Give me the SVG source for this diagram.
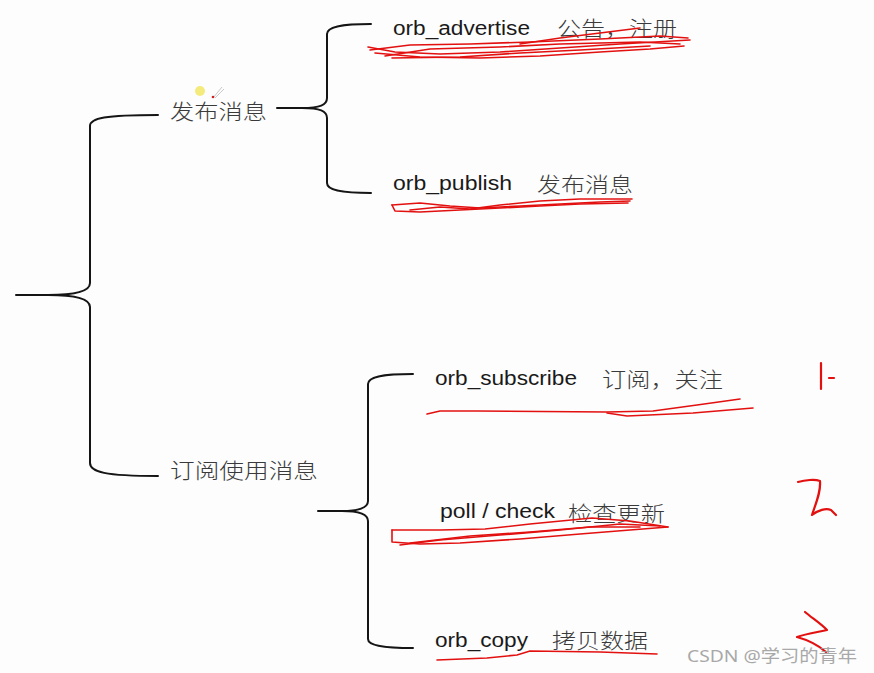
<svg xmlns="http://www.w3.org/2000/svg" width="874" height="673" viewBox="0 0 874 673">
<style>
.br{fill:none;stroke:#151515;stroke-width:2;stroke-linecap:round}
.lat{font-family:"Liberation Sans","Open Sans",sans-serif;font-size:20px;fill:#1a1a1a}
.cjk{font-family:"Noto Sans CJK SC","Noto Sans CJK JP",sans-serif;font-size:21px;fill:#3a3a3a;font-weight:300}
.red{fill:none;stroke:#e31010;stroke-width:1.6;stroke-linecap:round;stroke-linejoin:round}
.redt{fill:none;stroke:#e31010;stroke-width:2.2;stroke-linecap:round;stroke-linejoin:round}
</style>
<rect width="874" height="673" fill="#fdfdfd"/>
<g id="connectors">
<path class="br" d="M16,295 L48,295 C72,295 90,292 90,283 L90,126 C90,118 105,115 158,115"/>
<path class="br" d="M48,295 C72,295 90,298 90,307 L90,463 C90,472 105,476 158,476"/>
<path class="br" d="M277,108 L302,108 C320,108 327,105 327,98 L327,34 C327,27 340,24 371,24"/>
<path class="br" d="M302,108 C320,108 327,111 327,118 L327,183 C327,190 340,193 371,193"/>
<path class="br" d="M318,511 L342,511 C360,511 368,508 368,501 L368,384 C368,377 381,374 413,374"/>
<path class="br" d="M342,511 C360,511 368,514 368,521 L368,639 C368,645 381,648 413,648"/>
</g>
<g id="root-publish">
<text class="cjk" x="170" y="119" textLength="97" lengthAdjust="spacingAndGlyphs" font-size="22">发布消息</text>
</g>
<g id="root-subscribe">
<text class="cjk" x="170" y="478" textLength="148" lengthAdjust="spacingAndGlyphs" font-size="22">订阅使用消息</text>
</g>
<g id="node-advertise">
<text class="lat" x="393" y="35" textLength="137" lengthAdjust="spacingAndGlyphs">orb_advertise</text>
<text class="cjk" x="557" y="36" textLength="120" lengthAdjust="spacingAndGlyphs">公告，注册</text>
</g>
<g id="node-publish">
<text class="lat" x="393" y="190" textLength="119" lengthAdjust="spacingAndGlyphs">orb_publish</text>
<text class="cjk" x="537" y="192" textLength="96" lengthAdjust="spacingAndGlyphs" font-size="22">发布消息</text>
</g>
<g id="node-subscribe">
<text class="lat" x="435" y="385" textLength="142" lengthAdjust="spacingAndGlyphs">orb_subscribe</text>
<text class="cjk" x="602" y="387" textLength="121" lengthAdjust="spacingAndGlyphs">订阅，关注</text>
</g>
<g id="node-poll">
<text class="lat" x="440" y="518" textLength="115" lengthAdjust="spacingAndGlyphs">poll / check</text>
<text class="cjk" x="568" y="521" textLength="97" lengthAdjust="spacingAndGlyphs" font-size="22">检查更新</text>
</g>
<g id="node-copy">
<text class="lat" x="435" y="647" textLength="93" lengthAdjust="spacingAndGlyphs">orb_copy</text>
<text class="cjk" x="552" y="648" textLength="96" lengthAdjust="spacingAndGlyphs">拷贝数据</text>
</g>
<g id="annotations">
<path class="red" d="M368,47 L395,52 L440,54 L500,52 L560,48 L620,44 L690,40"/>
<path class="red" d="M370,50 L410,45 L470,44 L530,42 L600,39 L660,36 L688,38"/>
<path class="red" d="M375,53 L420,57 L480,58 L540,56 L600,52 L650,49 L684,46"/>
<path class="red" d="M385,56 L430,49 L500,47 L560,44 L640,42 L680,44"/>
<path class="red" d="M392,58 L460,57 L520,53 L580,50 L650,46"/>
<path class="red" d="M520,44 L560,38 L600,33 L640,28"/>
<path class="red" d="M392,205 L420,203 L450,206 L480,208 L520,206 L560,204 L600,202 L630,201"/>
<path class="red" d="M392,205 L395,211 L420,212 L460,210 L500,208 L540,206 L580,204 L628,203"/>
<path class="red" d="M410,210 L440,207 L470,209 L500,205 L540,201 L580,199 L632,199"/>
<path class="red" d="M427,414 L440,411 L477,411 L607,412 L653,411 L697,405 L740,399"/>
<path class="red" d="M607,413 L627,416 L693,413 L753,408"/>
<path class="red" d="M392,530 L392,542 L420,544 L460,543 L520,539 L580,534 L630,530 L668,527"/>
<path class="red" d="M392,530 L440,530 L485,529 L530,524 L592,518 L630,521 L668,527"/>
<path class="red" d="M400,545 L440,540 L500,535 L560,530 L620,524 L660,526"/>
<path class="red" d="M410,543 L470,536 L530,532 L590,527 L640,527"/>
<path class="red" d="M437,660 L487,658 L517,655 L530,651 L600,652 L657,654"/>
<path class="redt" d="M821,363 L821,389 M829,378 L834,378"/>
<path class="redt" d="M798,482 C805,480 815,479 820,481 C821,492 816,503 812,515 C818,510 826,508 831,510 L836,515"/>
<path class="redt" d="M805,612 C812,618 820,623 827,630 C818,632 805,634 797,637 C808,640 818,645 826,652"/>
<circle cx="200" cy="91" r="5" fill="#f3e866" opacity="0.85"/>
<path d="M213,98 L222,87 M215,98 L224,89" stroke="#bbb" stroke-width="0.8" fill="none"/>
<circle cx="213" cy="97" r="1.3" fill="#d02020"/>
</g>
<text x="687" y="662" font-family="'Noto Sans','Noto Sans CJK SC',sans-serif" font-size="17" fill="#9a9a9a" opacity="0.85" textLength="170" lengthAdjust="spacingAndGlyphs">CSDN @学习的青年</text>
</svg>
